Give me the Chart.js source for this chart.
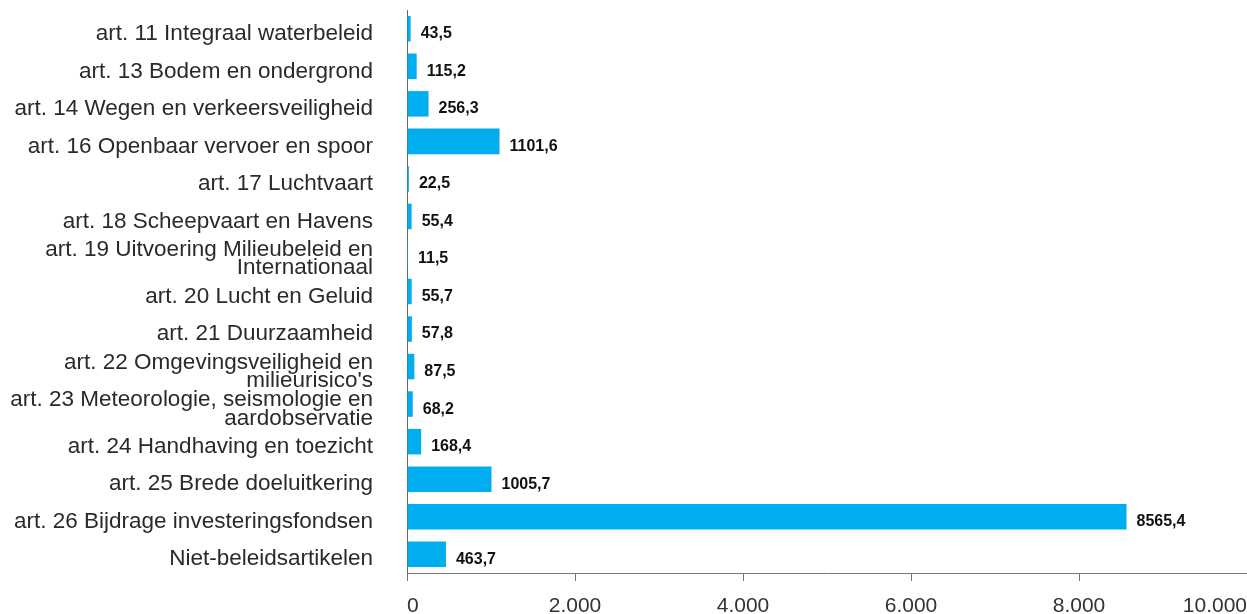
<!DOCTYPE html>
<html>
<head>
<meta charset="utf-8">
<script src="https://cdn.jsdelivr.net/npm/chart.js@4"></script>
<style>
  html, body { margin: 0; padding: 0; background: #fff; }
  #wrap { width: 1247px; height: 614px; position: relative; }
</style>
</head>
<body>
<div id="wrap"><canvas id="grafiek"></canvas></div>
<script>
const artikelen = [
    'art. 11 Integraal waterbeleid',
    'art. 13 Bodem en ondergrond',
    'art. 14 Wegen en verkeersveiligheid',
    'art. 16 Openbaar vervoer en spoor',
    'art. 17 Luchtvaart',
    'art. 18 Scheepvaart en Havens',
    ['art. 19 Uitvoering Milieubeleid en', 'Internationaal'],
    'art. 20 Lucht en Geluid',
    'art. 21 Duurzaamheid',
    ['art. 22 Omgevingsveiligheid en', "milieurisico's"],
    ['art. 23 Meteorologie, seismologie en', 'aardobservatie'],
    'art. 24 Handhaving en toezicht',
    'art. 25 Brede doeluitkering',
    'art. 26 Bijdrage investeringsfondsen',
    'Niet-beleidsartikelen'
];
const bedragen = [43.5, 115.2, 256.3, 1101.6, 22.5, 55.4, 11.5, 55.7, 57.8, 87.5, 68.2, 168.4, 1005.7, 8565.4, 463.7];
const asTicks = [0, 2000, 4000, 6000, 8000, 10000];

const fontFam = "'Liberation Sans', Arial, sans-serif";

function metPunt(v) {
    return v.toString().replace(/\B(?=(\d{3})+(?!\d))/g, '.');
}

// waarden naast de balken
const waardeLabels = {
    id: 'waardeLabels',
    afterDatasetsDraw(chart) {
        const ctx = chart.ctx;
        const meta = chart.getDatasetMeta(0);
        ctx.save();
        ctx.font = "bold 16px " + fontFam;
        ctx.fillStyle = '#111';
        ctx.textAlign = 'left';
        ctx.textBaseline = 'middle';
        meta.data.forEach((bar, i) => {
            const txt = bedragen[i].toFixed(1).replace('.', ',');
            ctx.fillText(txt, bar.x + 10, bar.y + 5);
        });
        ctx.restore();
    }
};

new Chart(document.getElementById('grafiek'), {
    type: 'bar',
    data: {
        labels: artikelen,
        datasets: [{
            data: bedragen,
            backgroundColor: '#00aeef',
            borderWidth: 0,
            barPercentage: 0.68,
            categoryPercentage: 1
        }]
    },
    options: {
        indexAxis: 'y',
        responsive: true,
        maintainAspectRatio: false,
        animation: false,
        layout: { padding: { top: 10, right: 0, left: 0, bottom: 0 } },
        plugins: { legend: { display: false }, tooltip: { enabled: false } },
        scales: {
            x: {
                min: 0,
                max: 10000,
                afterBuildTicks: s => { s.ticks = asTicks.map(v => ({ value: v })); },
                afterFit: s => { s.height = 41; s.paddingLeft = 0; s.paddingRight = 0; },
                border: { display: true, color: '#777', width: 1 },
                grid: { drawOnChartArea: false, drawTicks: true, tickLength: 8, color: '#777' },
                ticks: {
                    align: 'inner',
                    padding: 13,
                    color: '#333',
                    font: { family: fontFam, size: 21 },
                    callback: v => metPunt(v)
                }
            },
            y: {
                afterFit: s => {
                    s.width = 407; s.paddingTop = 0; s.paddingBottom = 0;
                    // labels staan iets lager dan het midden van de balk
                    s.getPixelForTick = function (i) {
                        return Chart.CategoryScale.prototype.getPixelForTick.call(this, i) + 5;
                    };
                },
                border: { display: true, color: '#666', width: 1 },
                grid: { display: false, tickLength: 0 },
                ticks: {
                    autoSkip: false,
                    padding: 34,
                    color: '#2a2a2a',
                    font: { family: fontFam, size: 22.5, lineHeight: 0.82 }
                }
            }
        }
    },
    plugins: [waardeLabels]
});
</script>
</body>
</html>
